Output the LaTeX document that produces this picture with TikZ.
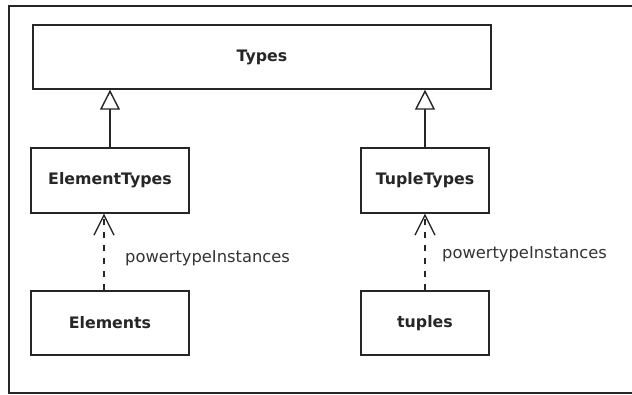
\documentclass[tikz,border=0pt]{standalone}
\usepackage{fontspec}
\setmainfont{DejaVu Sans}
\usetikzlibrary{arrows.meta}
\begin{document}
\begin{tikzpicture}[x=1pt,y=-1pt,
  classbox/.style={draw=black!85, line width=1.4pt, fill=white, inner sep=0pt,
    font=\fontsize{15.8}{18}\selectfont\bfseries, text=black!85},
  general/.style={draw=black!85, line width=1.4pt,
    -{Triangle[open, length=20pt, width=20pt, fill=white]}},
  instof/.style={draw=black!85, line width=1.3pt, dash pattern=on 6pt off 7pt,
    -{Straight Barb[length=20pt, width=20pt, line width=1.3pt]}},
  lbl/.style={font=\fontsize{16.3}{19}\selectfont, text=black!80, inner sep=0pt}]
  \useasboundingbox (0,0) rectangle (632,394);
  \fill[white] (0,0) rectangle (632,394);
  % outer frame
  \draw[black!85, line width=1.6pt] (9,6) rectangle (640,393);

  % classes
  \node[classbox, minimum width=458pt, minimum height=64pt] (types) at (262,57) {Types};
  \node[classbox, minimum width=158pt, minimum height=65pt] (eltypes) at (110,180.5) {ElementTypes};
  \node[classbox, minimum width=128pt, minimum height=65pt] (tuptypes) at (425,180.5) {TupleTypes};
  \node[classbox, minimum width=158pt, minimum height=64pt] (elems) at (110,323) {Elements};
  \node[classbox, minimum width=128pt, minimum height=64pt] (tuples) at (425,323) {tuples};

  % generalizations
  \draw[general] (eltypes.north) -- (eltypes.north |- types.south);
  \draw[general] (tuptypes.north) -- (tuptypes.north |- types.south);

  % powertype instance dependencies
  \coordinate (la) at ([xshift=-6pt]elems.north);
  \draw[instof] (la) -- (la |- eltypes.south);
  \draw[instof] (tuples.north) -- (tuptypes.south);

  % labels
  \node[lbl, anchor=base west] (l1) at (125,262) {powertypeInstances};
  \node[lbl, anchor=base west] (l2) at (442,258) {powertypeInstances};
\end{tikzpicture}
\end{document}
